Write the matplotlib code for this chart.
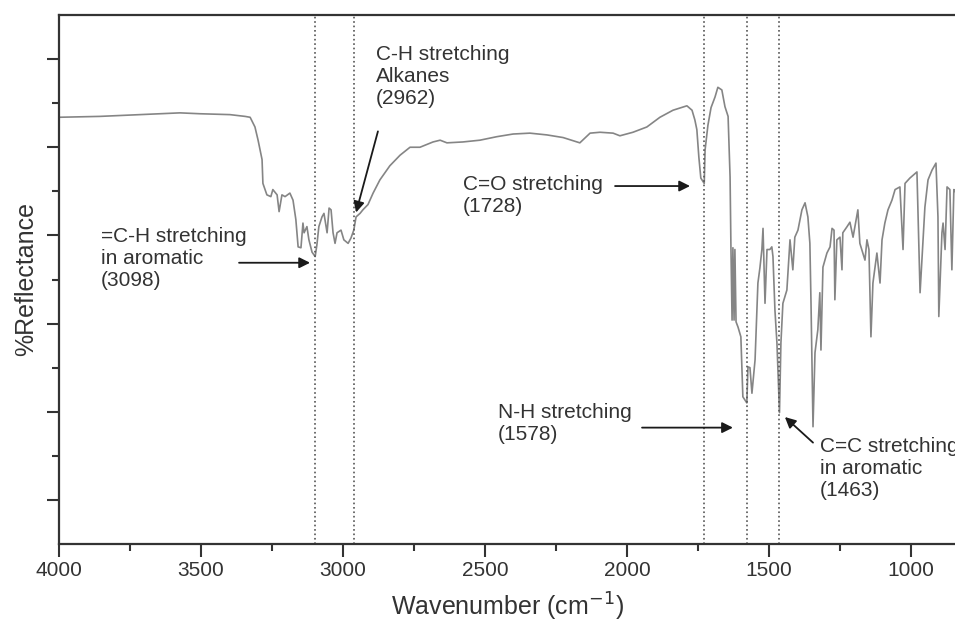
import matplotlib
matplotlib.use('Agg')
import matplotlib.pyplot as plt
from matplotlib.ticker import MultipleLocator, FixedLocator

plt.rcParams['font.family'] = ['Liberation Sans', 'DejaVu Sans']

# Spectrum: wavenumber (cm-1) and %reflectance
wavenumber = [
    4000, 3856, 3715, 3574, 3504, 3398, 3345, 3327, 3310, 3299, 3285, 3282,
    3268, 3254, 3247, 3232, 3225, 3215, 3204, 3187, 3176, 3166, 3158, 3148,
    3141, 3137, 3127, 3120, 3109, 3098, 3092, 3085, 3074, 3067, 3056, 3049,
    3042, 3035, 3028, 3021, 3007, 2997, 2982, 2972, 2962, 2954, 2940, 2930,
    2912, 2894, 2870, 2835, 2799, 2764, 2729, 2683, 2658, 2634, 2578, 2518,
    2458, 2401, 2342, 2282, 2225, 2176, 2166, 2130, 2095, 2049, 2025, 1979,
    1930, 1884, 1838, 1789, 1771, 1761, 1754, 1747, 1740, 1728, 1725, 1715,
    1704, 1690, 1680, 1666, 1655, 1644, 1637, 1634, 1630, 1627, 1623, 1620,
    1616, 1609, 1599, 1592, 1578, 1574, 1567, 1560, 1549, 1539, 1532, 1525,
    1521, 1514, 1507, 1497, 1490, 1486, 1479, 1472, 1463, 1458, 1451, 1437,
    1426, 1416, 1409, 1398, 1384, 1373, 1363, 1356, 1352, 1345, 1338, 1328,
    1321, 1317, 1310, 1296, 1285, 1278, 1271, 1268, 1261, 1250, 1243, 1240,
    1225, 1215, 1204, 1187, 1180, 1162, 1155, 1148, 1141, 1134, 1120, 1109,
    1102, 1092, 1081, 1067, 1056, 1039, 1028, 1021, 1004, 979, 968, 951,
    940, 926, 912, 905, 902, 891, 887, 880, 873, 863, 856, 849, 845,
]
reflectance = [
    48.4, 48.5, 48.7, 48.9, 48.8, 48.7, 48.5, 48.4, 47.3, 45.8, 43.6, 40.9,
    39.6, 39.4, 40.2, 39.6, 37.7, 39.6, 39.4, 39.8, 39.0, 36.8, 33.7, 33.6,
    36.4, 35.3, 36.0, 34.5, 33.1, 32.6, 33.9, 36.0, 37.1, 37.5, 35.3, 38.1,
    37.9, 35.3, 34.1, 35.3, 35.6, 34.5, 34.1, 34.7, 35.6, 37.1, 37.5, 37.9,
    38.5, 39.8, 41.3, 42.9, 44.1, 45.0, 45.0, 45.6, 45.8, 45.5, 45.6, 45.8,
    46.2, 46.5, 46.6, 46.4, 46.1, 45.6, 45.5, 46.6, 46.7, 46.6, 46.3, 46.7,
    47.3, 48.4, 49.2, 49.7, 49.2, 48.1, 47.0, 43.9, 41.5, 40.9, 44.7, 47.5,
    49.5, 50.7, 51.8, 51.5, 49.6, 48.5, 41.6, 33.7, 25.4, 33.6, 25.4, 33.4,
    25.2, 24.6, 23.5, 16.7, 16.0, 20.1, 20.0, 17.1, 20.9, 29.6, 31.3, 33.4,
    35.8, 27.3, 33.4, 33.4, 33.7, 32.6, 26.5, 22.8, 14.9, 22.8, 27.3, 28.8,
    34.5, 31.1, 34.8, 35.6, 37.9, 38.7, 37.1, 34.1, 27.3, 13.3, 21.7, 24.3,
    28.5, 22.0, 31.4, 33.0, 33.7, 35.8, 35.6, 27.7, 34.5, 34.8, 31.1, 35.3,
    36.0, 36.5, 34.8, 37.9, 34.1, 32.2, 34.5, 33.4, 23.5, 29.6, 33.0, 29.6,
    34.5, 36.4, 37.9, 39.0, 40.2, 40.5, 33.4, 40.9, 41.5, 42.2, 28.5, 38.2,
    41.3, 42.4, 43.2, 37.1, 25.8, 35.3, 36.4, 33.4, 40.5, 40.2, 31.1, 40.2, 40.0,
]

# Marked bands
band_lines = [3098, 2962, 1728, 1578, 1463]
band_texts = [
    '=C-H stretching\nin aromatic\n(3098)',
    'C-H stretching\nAlkanes\n(2962)',
    'C=O stretching\n(1728)',
    'N-H stretching\n(1578)',
    'C=C stretching\nin aromatic\n(1463)',
]
text_pos = [(3852, 32.4), (2884, 53.0), (2578, 39.5), (2454, 13.7), (1321, 8.6)]
arrow_tail = [(3366, 31.9), (2877, 46.8), (2042, 40.6), (1947, 13.2), (1345, 11.5)]
arrow_tip = [(3116, 31.9), (2954, 37.6), (1778, 40.6), (1627, 13.2), (1444, 14.4)]

fig = plt.figure(figsize=(9.55, 6.28), dpi=100)
ax = fig.add_axes([59 / 955, 1 - 544 / 628, 1 - 59 / 955, 529 / 628])

ax.plot(wavenumber, reflectance, color='#858585', lw=1.2)

for wn in band_lines:
    ax.axvline(wn, color='#555555', ls=':', lw=1.2)

for txt, pos in zip(band_texts, text_pos):
    ax.text(pos[0], pos[1], txt, fontsize=15, color='#333333',
            ha='left', va='center', linespacing=1.2)

for tail, tip in zip(arrow_tail, arrow_tip):
    ax.annotate('', xy=tip, xytext=tail,
                arrowprops=dict(arrowstyle='-|>', color='#1a1a1a', lw=1.3,
                                mutation_scale=16, shrinkA=0, shrinkB=0))

ax.set_xlim(4000, 845)
ax.set_ylim(0, 60)

ax.xaxis.set_major_locator(MultipleLocator(500))
ax.xaxis.set_minor_locator(MultipleLocator(250))
ax.yaxis.set_major_locator(FixedLocator([5, 15, 25, 35, 45, 55]))
ax.yaxis.set_minor_locator(FixedLocator([10, 20, 30, 40, 50]))
ax.set_yticklabels([])

ax.tick_params(axis='both', which='major', direction='out', length=9,
               width=1.5, color='#333333', labelsize=15, labelcolor='#333333', pad=3)
ax.tick_params(axis='both', which='minor', direction='out', length=5,
               width=1.5, color='#333333')
ax.tick_params(axis='y', which='both', labelleft=False)

for side in ['left', 'bottom', 'top']:
    ax.spines[side].set_linewidth(1.6)
    ax.spines[side].set_color('#333333')
ax.spines['right'].set_visible(False)

ax.set_xlabel('Wavenumber (cm$^{-1}$)', fontsize=18, color='#333333', labelpad=8)
ax.set_ylabel('%Reflectance', fontsize=18, color='#333333', labelpad=6)

fig.savefig('out.png', dpi=100)
